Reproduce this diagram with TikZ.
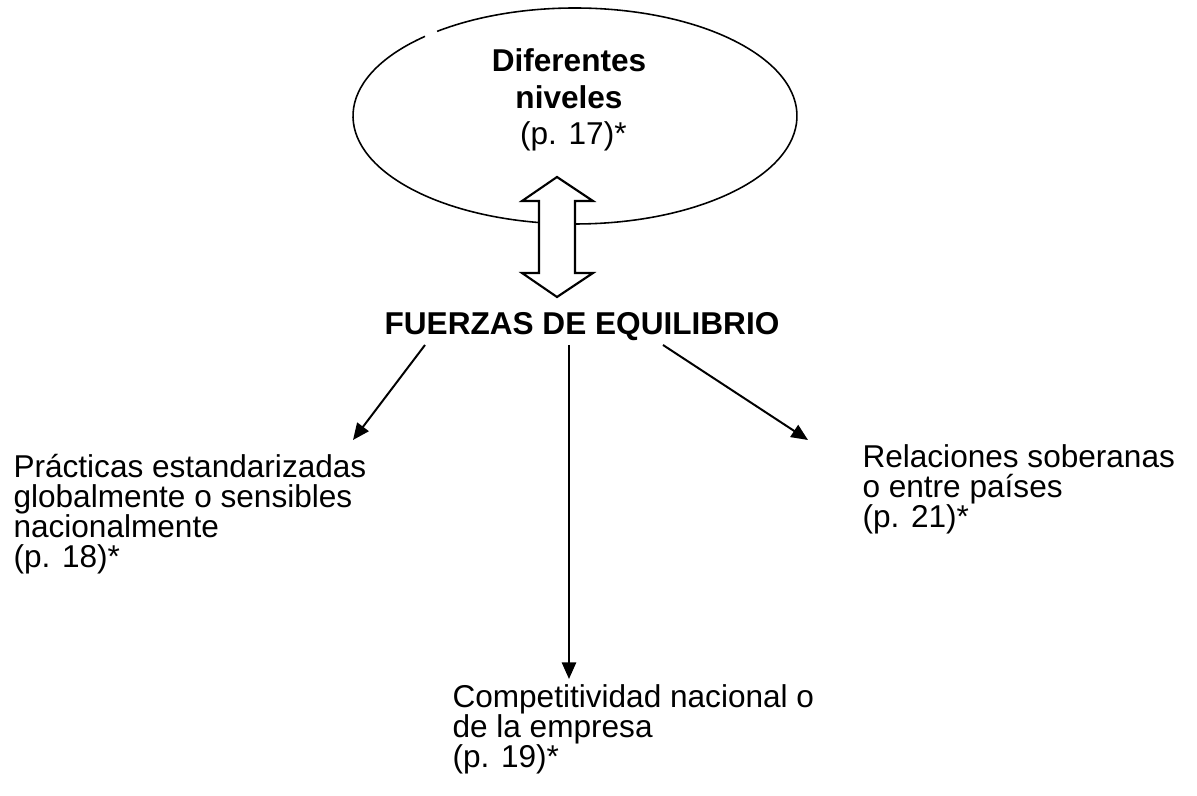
\documentclass[tikz,border=0pt]{standalone}
\usepackage{fontspec}
\setmainfont{Liberation Sans}
\usetikzlibrary{calc,arrows.meta,positioning}

\begin{document}
\begin{tikzpicture}[x=0.38pt,y=-0.38pt,
  txt/.style={inner sep=0pt,align=left,font=\fontsize{12pt}{11.4pt}\selectfont},
  arr/.style={line width=0.75pt,-{Triangle[length=6.3pt,width=5.4pt]}}]
  \useasboundingbox (0,0) rectangle (1197,796);
  \draw[line width=0.6pt] (575,116) ++(231.6:222 and 108) arc[start angle=231.6,end angle=587.5,x radius=222,y radius=108];
  \draw[line width=0.8pt,fill=white,miter limit=10] (557,177) -- (593,201) -- (575,201) -- (575,273) -- (593,273) -- (557,297) -- (522,273) -- (539,273) -- (539,201) -- (522,201) -- cycle;
  \node[txt,align=center,anchor=base,font=\fontsize{12pt}{13.9pt}\selectfont] (lvl) at (569,145) {\textbf{Diferentes}\\\textbf{niveles}\\\mbox{ }(p. 17)*};
  \node[inner sep=0pt,anchor=base,font=\bfseries\fontsize{12pt}{14pt}\selectfont] (fza) at (582,335) {FUERZAS DE EQUILIBRIO};
  \node[txt,anchor=base west] (prac) at (13,568) {Prácticas estandarizadas\\globalmente o sensibles\\nacionalmente\\(p. 18)*};
  \node[txt,anchor=base west] (comp) at (452,768) {Competitividad nacional o\\de la empresa\\(p. 19)*};
  \node[txt,anchor=base west] (rel) at (862,528) {Relaciones soberanas\\o entre países\\(p. 21)*};
  \coordinate (tipL) at (353,440);
  \coordinate (tipM) at (569,679);
  \coordinate (tipR) at (808,440);
  \draw[arr] ($(fza.base)+(-157,10)$) -- (tipL);
  \draw[arr] ($(fza.base)+(-13,10)$) -- (tipM);
  \draw[arr] ($(fza.base)+(81,10)$) -- (tipR);
\end{tikzpicture}
\end{document}
